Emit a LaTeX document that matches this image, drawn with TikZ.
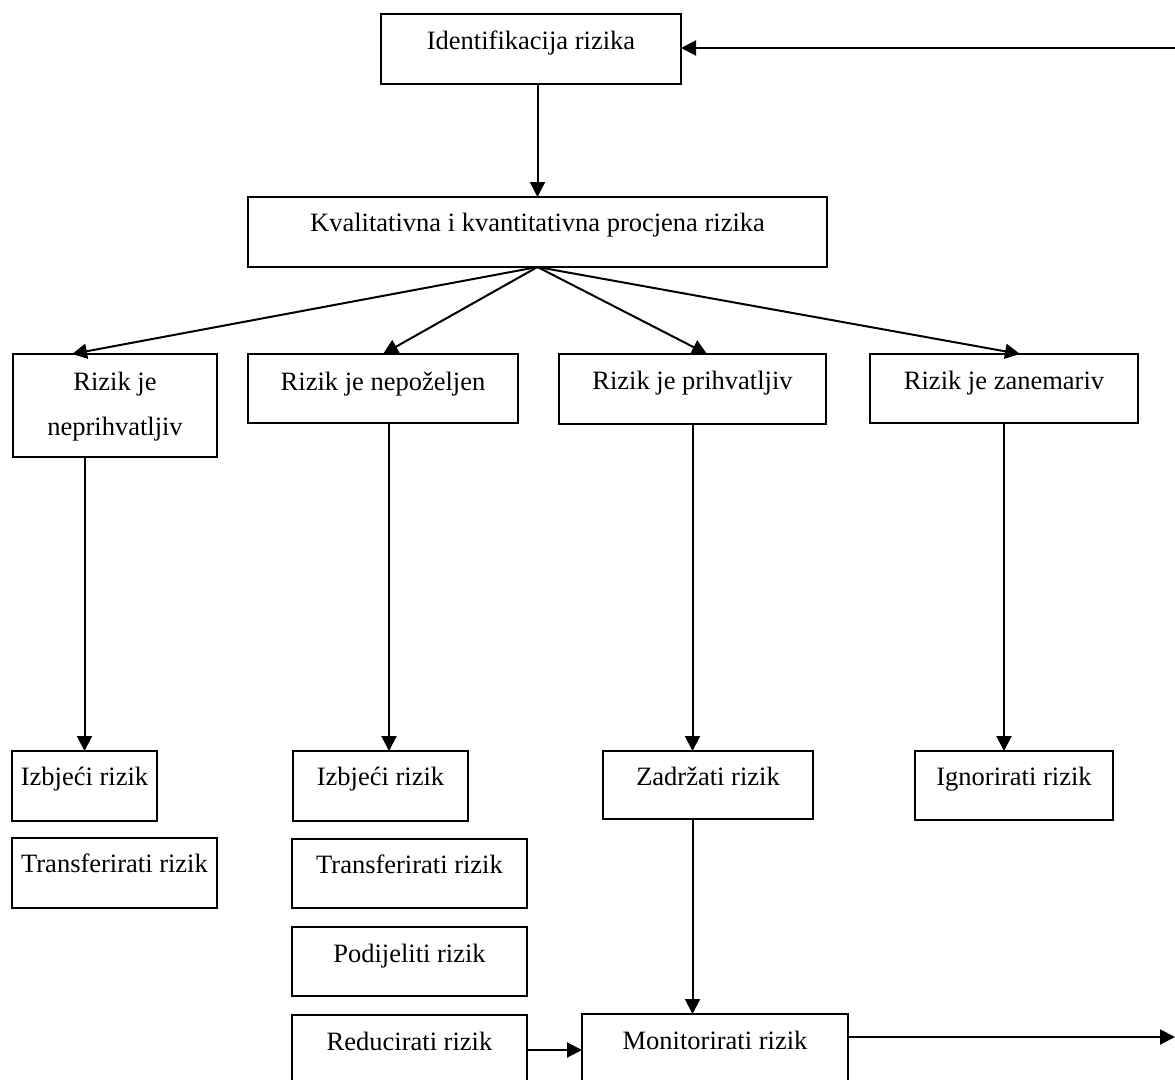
\documentclass[tikz,border=0pt]{standalone}
\usepackage{fontspec}
\setmainfont{Liberation Serif}
\usetikzlibrary{arrows.meta}
\begin{document}
\begin{tikzpicture}[x=1pt,y=-1pt,
  box/.style={draw, line width=2.4pt, inner sep=0pt, outer sep=0pt},
  lbl/.style={anchor=base, inner sep=0pt, font=\fontsize{26.5}{45}\selectfont, align=center},
  conn/.style={line width=2pt, -{Triangle[length=15pt,width=15pt]}}]
\useasboundingbox (0,0) rectangle (1175,1079);
\clip (0,0) rectangle (1175,1079);
% boxes
\node[box, minimum width=300pt, minimum height=70pt] (iden) at (531,49) {};
\node[box, minimum width=579pt, minimum height=70pt] (kval) at (537.5,232) {};
\node[box, minimum width=204pt, minimum height=103pt] (r1) at (115,405.5) {};
\node[box, minimum width=270pt, minimum height=69pt] (r2) at (383,388.5) {};
\node[box, minimum width=267pt, minimum height=70pt] (r3) at (692.5,389) {};
\node[box, minimum width=268pt, minimum height=69pt] (r4) at (1004,388.5) {};
\node[box, minimum width=145pt, minimum height=70pt] (a1) at (84.5,786) {};
\node[box, minimum width=205pt, minimum height=70pt] (a2) at (114.5,873) {};
\node[box, minimum width=175pt, minimum height=70pt] (b1) at (380.5,786) {};
\node[box, minimum width=235pt, minimum height=69pt] (b2) at (409.5,873.5) {};
\node[box, minimum width=235pt, minimum height=69pt] (b3) at (409.5,961.5) {};
\node[box, minimum width=235pt, minimum height=70pt] (b4) at (409.5,1050) {};
\node[box, minimum width=210pt, minimum height=68pt] (c1) at (708,785) {};
\node[box, minimum width=198pt, minimum height=69pt] (d1) at (1014,785.5) {};
\node[box, minimum width=266pt, minimum height=70pt] (mon) at (715,1049) {};
% texts
\node[lbl] (tiden) at ([yshift=-35pt]iden.north) {Identifikacija rizika};
\node[lbl] (tkval) at ([yshift=-34pt]kval.north) {Kvalitativna i kvantitativna procjena rizika};
\node[lbl] (tr1) at ([yshift=-81pt]r1.north) {Rizik je\\neprihvatljiv};
\node[lbl] (tr2) at ([yshift=-36pt]r2.north) {Rizik je nepoželjen};
\node[lbl] (tr3) at ([yshift=-35pt]r3.north) {Rizik je prihvatljiv};
\node[lbl] (tr4) at ([yshift=-35pt]r4.north) {Rizik je zanemariv};
\node[lbl] (ta1) at ([yshift=-34pt]a1.north) {Izbjeći rizik};
\node[lbl] (ta2) at ([yshift=-34pt]a2.north) {Transferirati rizik};
\node[lbl] (tb1) at ([yshift=-34pt]b1.north) {Izbjeći rizik};
\node[lbl] (tb2) at ([yshift=-34pt]b2.north) {Transferirati rizik};
\node[lbl] (tb3) at ([yshift=-35pt]b3.north) {Podijeliti rizik};
\node[lbl] (tb4) at ([yshift=-35pt]b4.north) {Reducirati rizik};
\node[lbl] (tc1) at ([yshift=-34pt]c1.north) {Zadržati rizik};
\node[lbl] (td1) at ([yshift=-34pt]d1.north) {Ignorirati rizik};
\node[lbl] (tmon) at ([yshift=-35pt]mon.north) {Monitorirati rizik};
% free ends
\coordinate (loopin) at (1175,48);
\coordinate (loopout) at (1175,1037);
% connectors
\draw[conn] (loopin) -- (loopin -| iden.east);
\draw[conn] (kval.north |- iden.south) -- (kval.north);
\draw[conn] (kval.south) -- ([xshift=-43pt]r1.north);
\draw[conn] (kval.south) -- (r2.north);
\draw[conn] (kval.south) -- ([xshift=14.5pt]r3.north);
\draw[conn] (kval.south) -- ([xshift=16pt]r4.north);
\draw[conn] (a1.north |- r1.south) -- (a1.north);
\draw[conn] ([xshift=6pt]r2.south) -- ([xshift=6pt]r2.south |- b1.north);
\draw[conn] (r3.south) -- (r3.south |- c1.north);
\draw[conn] (r4.south) -- (r4.south |- d1.north);
\draw[conn] (r3.south |- c1.south) -- (r3.south |- mon.north);
\draw[conn] (b4.east) -- (b4.east -| mon.west);
\draw[conn] (mon.east |- loopout) -- (loopout);
\end{tikzpicture}
\end{document}
